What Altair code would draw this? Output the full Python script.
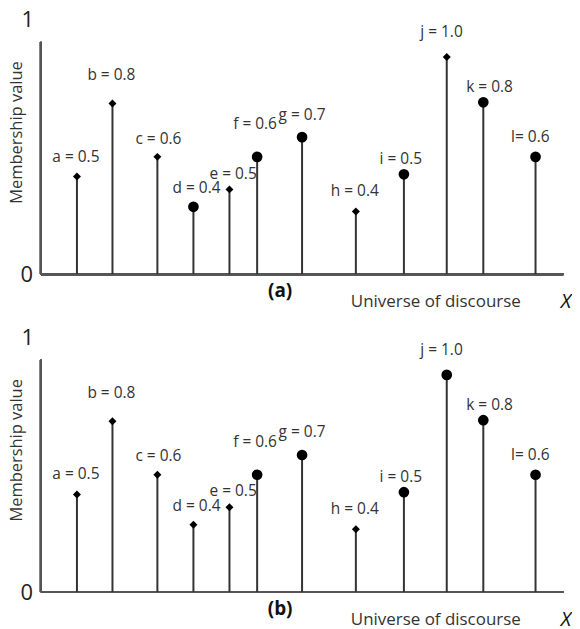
import altair as alt
import pandas as pd

# ---- data ----
names = list("abcdefghijkl")
label_texts = ["a = 0.5", "b = 0.8", "c = 0.6", "d = 0.4", "e = 0.5", "f = 0.6",
               "g = 0.7", "h = 0.4", "i = 0.5", "j = 1.0", "k = 0.8", "l= 0.6"]
# element position along the universe of discourse (axis 0..10)
positions = [0.69, 1.37, 2.23, 2.92, 3.61, 4.14, 5.0, 6.03, 6.95, 7.77, 8.47, 9.47]
# drawn stem heights (axis 0..1)
heights = [0.42, 0.735, 0.505, 0.29, 0.365, 0.505, 0.59, 0.27, 0.43, 0.935, 0.74, 0.505]
# label anchor (centre) in axis units
label_x = [0.67, 1.35, 2.25, 2.98, 3.68, 4.10, 5.0, 6.01, 6.89, 7.67, 8.59, 9.37]
label_y = [0.506, 0.858, 0.584, 0.369, 0.433, 0.648, 0.687, 0.356, 0.494, 1.043, 0.807, 0.592]
markers_a = ["diamond", "diamond", "diamond", "circle", "diamond", "circle",
             "circle", "diamond", "circle", "diamond", "circle", "circle"]
markers_b = ["diamond", "diamond", "diamond", "diamond", "diamond", "circle",
             "circle", "diamond", "circle", "circle", "circle", "circle"]
panel_tags = ["(a)", "(b)"]
axis_x_end = 10
axis_y_end = 1

FONT = "Open Sans"
XDOM = [-0.63, 10.13]
YDOM = [-0.1245, 1.137]
W, H = 564, 294


def panel(markers, tag):
    df = pd.DataFrame({
        "name": names, "label": label_texts, "pos": positions, "h": heights,
        "lx": label_x, "ly": label_y, "marker": markers,
    })
    xs = alt.Scale(domain=XDOM, nice=False, zero=False)
    ys = alt.Scale(domain=YDOM, nice=False, zero=False)
    X = lambda f: alt.X(f, type="quantitative", scale=xs, axis=None)
    Y = lambda f: alt.Y(f, type="quantitative", scale=ys, axis=None)

    base = alt.Chart(df)
    x_axis = base.mark_rule(color="#555555", strokeWidth=2).encode(
        x=alt.datum(0, scale=xs, axis=None), x2=alt.datum(axis_x_end),
        y=alt.datum(0, scale=ys, axis=None))
    y_axis = base.mark_rule(color="#555555", strokeWidth=2).encode(
        x=alt.datum(0, scale=xs, axis=None),
        y=alt.datum(0, scale=ys, axis=None), y2=alt.datum(axis_y_end))
    stems = base.mark_rule(color="#333333", strokeWidth=2).encode(
        x=X("pos"), y=Y("h"), y2=alt.datum(0))
    pts = base.mark_point(filled=True, opacity=1, color="#000000").encode(
        x=X("pos"), y=Y("h"),
        shape=alt.Shape("marker:N", scale=alt.Scale(domain=["diamond", "circle"],
                                                     range=["diamond", "circle"]), legend=None),
        size=alt.Size("marker:N", scale=alt.Scale(domain=["diamond", "circle"],
                                                   range=[64, 115]), legend=None))
    labels = base.mark_text(font=FONT, fontSize=15.5, color="#333333",
                            baseline="middle", align="center").encode(
        x=X("lx"), y=Y("ly"), text="label:N")

    tdf = pd.DataFrame({
        "t": ["1", "0", tag, "Universe of discourse", "X"],
        "x": [-0.25, -0.27, 4.58, 7.56, 10.05],
        "y": [1.094, -0.005, -0.073, -0.12, -0.12],
        "kind": ["num", "num", "tag", "title", "x"],
    })
    tb = alt.Chart(tdf)
    nums = tb.mark_text(font=FONT, fontSize=22, color="#222222", baseline="middle").encode(
        x=X("x"), y=Y("y"), text="t:N").transform_filter("datum.kind == 'num'")
    tagm = tb.mark_text(font=FONT, fontSize=19, fontWeight="bold", color="#111111",
                        baseline="middle").encode(
        x=X("x"), y=Y("y"), text="t:N").transform_filter("datum.kind == 'tag'")
    title = tb.mark_text(font=FONT, fontSize=17, color="#333333", baseline="middle").encode(
        x=X("x"), y=Y("y"), text="t:N").transform_filter("datum.kind == 'title'")
    xm = tb.mark_text(font=FONT, fontSize=20, fontStyle="italic", color="#111111",
                      baseline="middle").encode(
        x=X("x"), y=Y("y"), text="t:N").transform_filter("datum.kind == 'x'")

    ydf = pd.DataFrame({"t": ["Membership value"], "x": [-0.46], "y": [0.61]})
    ytitle = alt.Chart(ydf).mark_text(font=FONT, fontSize=16.5, color="#333333", angle=270,
                                      baseline="middle", align="center").encode(
        x=X("x"), y=Y("y"), text="t:N")

    return alt.layer(x_axis, y_axis, stems, pts, labels, nums, tagm, title, xm, ytitle).properties(
        width=W, height=H)


chart = alt.vconcat(panel(markers_a, panel_tags[0]), panel(markers_b, panel_tags[1]),
                    spacing=25, bounds="flush").properties(
    padding=0, background="white").configure_view(strokeWidth=0, stroke="transparent")

chart.save("out.html", embed_options={"renderer": "svg", "actions": False})
